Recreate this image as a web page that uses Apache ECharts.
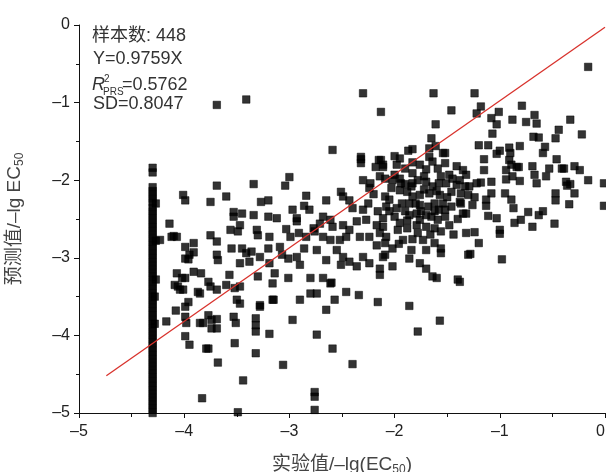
<!DOCTYPE html>
<html>
<head>
<meta charset="utf-8">
<script src="https://cdn.jsdelivr.net/npm/echarts@6/dist/echarts.min.js"></script>
<style>
html,body{margin:0;padding:0;background:#fff;}
#chart{width:606px;height:472px;}
</style>
</head>
<body>
<div id="chart"></div>
<script>
// ---- data ----
const xTicks = [-5, -4, -3, -2, -1, 0];
const yTicks = [-5, -4, -3, -2, -1, 0];

// scattered points: [experimental -lg(EC50), predicted -lg EC50]
const points = [
[-1.63,-0.88],[-1.24,-0.88],[-2.13,-1.12],[-1.46,-1.10],[-1.18,-1.05],[-1.22,-1.14],[-0.79,-1.04],[-1.01,-1.12],[-1.08,-1.20],[-1.03,-1.28],
[-0.88,-1.22],[-0.75,-1.25],[-0.67,-1.16],[-0.65,-1.27],[-0.33,-1.22],[-1.61,-1.28],[-1.07,-1.40],[-0.44,-1.35],[-0.22,-1.41],[-0.68,-1.44],
[-0.63,-1.45],[-0.47,-1.46],[-1.65,-1.46],[-1.20,-1.55],[-1.11,-1.55],[-0.81,-1.56],[-0.91,-1.58],[-1.00,-1.62],[-0.57,-1.57],[-0.59,-1.65],
[-1.83,-1.60],[-1.87,-1.62],[-1.67,-1.59],[-1.54,-1.65],[-1.03,-1.66],[-1.15,-1.73],[-0.91,-1.74],[-0.46,-1.73],[-2.00,-1.69],[-2.13,-1.74],
[-1.67,-1.70],[-1.83,-1.77],[-0.89,-1.80],[-0.84,-1.83],[-0.69,-1.82],[-0.53,-1.85],[-0.41,-1.85],[-0.29,-1.82],[-0.24,-1.87],[-1.15,-1.87],
[-0.94,-1.87],[-0.67,-1.93],[-0.56,-1.95],[-0.16,-2.00],[-0.01,-2.04],[-0.88,-1.95],[-0.94,-1.99],[-0.81,-2.01],[-1.18,-2.03],[-1.08,-2.02],
[-0.37,-2.02],[-0.33,-2.05],[-0.47,-2.17],[-0.47,-2.26],[-0.29,-2.17],[-0.34,-2.31],[-0.01,-2.33],[-1.08,-2.17],[-1.13,-2.25],[-1.13,-2.33],
[-0.95,-2.17],[-0.89,-2.25],[-0.87,-2.36],[-1.24,-2.22],[-1.22,-2.04],[-1.33,-2.08],[-1.29,-2.08],[-1.32,-2.43],[-1.11,-2.46],[-1.03,-2.49],
[-0.86,-2.55],[-0.80,-2.51],[-0.73,-2.41],[-0.63,-2.45],[-0.59,-2.40],[-0.69,-2.60],[-0.48,-2.56],[-1.00,-2.64],[-1.00,-2.69],[-1.32,-2.68],
[-1.24,-2.67],[-1.20,-2.81],[-1.28,-2.95],[-0.98,-3.02],
[-1.64,-1.76],[-1.59,-1.85],[-1.76,-1.80],[-1.70,-1.86],[-1.41,-1.82],[-1.35,-1.87],[-1.32,-1.93],[-1.48,-1.93],[-1.56,-1.95],[-1.83,-1.91],
[-1.78,-2.00],[-1.95,-1.98],[-2.02,-2.00],[-2.09,-1.98],[-2.03,-2.10],[-1.95,-2.13],[-1.84,-2.08],[-1.70,-2.02],[-1.64,-2.08],[-1.51,-2.04],
[-1.41,-2.06],[-1.46,-2.15],[-1.37,-2.17],[-1.57,-2.19],[-1.67,-2.17],[-1.76,-2.19],[-1.83,-2.21],[-1.86,-2.30],[-1.76,-2.32],[-1.68,-2.34],
[-1.62,-2.30],[-1.54,-2.30],[-1.46,-2.34],[-2.09,-2.21],[-2.08,-2.34],[-1.98,-2.36],[-2.00,-2.47],[-1.86,-2.45],[-1.76,-2.51],[-1.65,-2.47],
[-1.59,-2.51],[-1.52,-2.47],[-1.35,-2.43],[-1.70,-2.60],[-1.62,-2.62],[-1.56,-2.66],[-1.79,-2.58],[-2.11,-2.60],[-1.97,-2.64],[-2.08,-2.73],
[-1.92,-2.77],[-1.83,-2.76],[-1.73,-2.77],[-1.62,-2.81],[-1.56,-2.88],[-1.56,-2.94],[-1.84,-2.90],[-2.02,-2.88],[-2.09,-2.96],[-1.76,-3.07],
[-1.70,-3.14],[-2.02,-3.11],[-1.64,-3.24],[-1.40,-3.28],
[-1.90,-2.05],[-1.88,-2.15],[-1.72,-2.12],[-1.60,-2.14],[-1.50,-2.22],[-1.62,-2.40],[-1.70,-2.45],[-1.90,-2.40],[-1.95,-2.55],[-1.88,-2.62],
[-1.66,-2.70],[-1.78,-2.68],[-1.96,-2.82],[-1.70,-2.90],[-1.48,-2.58],[-1.44,-2.70],[-2.05,-2.40],[-2.16,-2.40],[-2.20,-2.18],[-2.05,-2.25],
[-1.90,-1.85],[-1.98,-1.80],[-1.72,-1.95],[-1.52,-1.78],[-1.45,-1.98],[-1.58,-2.04],[-1.80,-2.30],[-1.93,-2.30],[-1.58,-2.38],[-1.75,-2.40],
[-2.14,-2.68],[-1.88,-2.52],[-1.52,-2.38],[-1.40,-2.50],[-1.26,-2.32],
[-2.59,-1.61],[-2.32,-1.73],[-2.32,-1.78],[-2.15,-1.74],[-2.18,-1.83],[-2.11,-1.80],[-3.00,-1.96],[-3.04,-2.07],[-3.34,-2.05],[-3.69,-2.07],
[-4.01,-2.19],[-3.99,-2.26],[-3.75,-2.28],[-3.60,-2.21],[-3.27,-2.28],[-3.20,-2.26],[-2.84,-2.20],[-2.86,-2.33],[-2.81,-2.38],[-2.97,-2.38],
[-2.65,-2.26],[-2.51,-2.15],[-2.49,-2.21],[-2.43,-2.26],[-2.30,-2.00],[-2.23,-2.04],[-2.24,-2.10],[-2.25,-2.30],[-2.30,-2.38],[-2.40,-2.36],
[-3.53,-2.41],[-3.53,-2.47],[-3.45,-2.43],[-3.34,-2.45],[-3.20,-2.47],[-3.12,-2.49],[-2.93,-2.49],[-2.93,-2.53],[-2.68,-2.47],[-2.61,-2.51],
[-2.71,-2.56],[-2.77,-2.62],[-2.59,-2.60],[-2.49,-2.58],[-2.43,-2.64],[-2.36,-2.53],[-2.27,-2.51],[-2.17,-2.58],[-2.11,-2.49],[-4.14,-2.56],
[-3.47,-2.58],[-3.56,-2.64],[-3.49,-2.66],[-3.31,-2.64],[-3.30,-2.71],[-3.19,-2.73],[-3.03,-2.63],[-2.99,-2.73],[-2.91,-2.68],[-2.84,-2.73],
[-2.76,-2.66],[-2.68,-2.73],[-2.61,-2.77],[-2.52,-2.77],[-2.46,-2.73],[-2.33,-2.73],[-2.24,-2.73],[-2.17,-2.84],[-2.09,-2.81],[-4.12,-2.73],
[-4.07,-2.73],[-3.99,-2.86],[-3.91,-2.81],[-3.75,-2.71],[-3.69,-2.79],[-4.23,-2.77],[-3.95,-2.96],[-3.99,-3.01],[-3.69,-2.96],[-3.68,-3.03],
[-3.55,-2.88],[-3.45,-2.88],[-3.41,-2.94],[-3.36,-2.92],[-3.28,-2.99],[-3.20,-2.88],[-3.19,-3.07],[-3.47,-3.07],[-3.38,-3.05],[-3.09,-2.86],
[-3.07,-2.96],[-3.01,-3.01],[-2.93,-2.99],[-2.90,-3.09],[-2.86,-2.88],[-2.74,-2.90],[-2.65,-3.03],[-2.55,-2.90],[-2.49,-2.99],[-2.43,-3.05],
[-2.36,-3.11],[-2.30,-2.99],[-2.24,-3.07],[-2.14,-3.14],[-2.11,-2.99],[-4.07,-3.20],[-4.02,-3.26],[-4.06,-3.37],[-4.01,-3.41],[-3.91,-3.18],
[-3.84,-3.20],[-3.77,-3.31],[-3.75,-3.37],[-3.85,-3.46],[-3.69,-3.41],[-3.57,-3.22],[-3.60,-3.35],[-3.52,-3.39],[-3.47,-3.37],[-3.50,-3.54],
[-3.47,-3.59],[-3.28,-3.61],[-3.30,-3.24],[-3.16,-3.33],[-3.14,-3.20],[-3.01,-3.26],[-2.80,-3.26],[-2.74,-3.46],[-2.80,-3.46],[-2.68,-3.26],
[-2.61,-3.33],[-2.57,-3.54],[-2.46,-3.44],[-2.34,-3.48],[-2.16,-3.57],[-2.90,-3.54],[-3.16,-3.54],
[-3.77,-3.74],[-3.74,-3.80],[-3.69,-3.79],[-3.82,-3.84],[-3.74,-3.91],[-3.69,-3.91],[-3.53,-3.76],[-3.51,-3.84],[-3.32,-3.78],[-3.32,-3.87],
[-3.32,-3.95],[-3.19,-3.98],[-3.28,-3.63],[-3.15,-3.54],[-2.97,-3.80],[-2.65,-3.67],[-2.74,-3.99],[-2.59,-4.17],[-3.77,-4.17],[-3.52,-4.10],
[-3.32,-4.23],[-3.68,-4.35],[-3.06,-4.38],[-3.44,-4.58],[-3.83,-4.81],[-2.76,-4.73],[-2.76,-4.79],[-2.76,-4.96],[-3.49,-4.99],
[-4.10,-2.72],[-3.91,-2.93],[-3.96,-3.02],[-3.99,-3.26],[-4.09,-3.35],[-4.04,-3.41],[-3.87,-3.44],[-3.99,-3.63],[-3.96,-3.57],[-4.08,-3.68],
[-4.17,-3.82],[-3.99,-3.76],[-3.98,-3.84],[-3.85,-3.84],[-3.99,-4.01],[-3.95,-4.12],[-3.79,-4.17],
[-3.69,-1.03],[-3.41,-0.96],
[-2.30,-0.88],[-1.61,-1.56],[-1.52,-1.65],[-2.32,-1.70],[-1.95,-1.72],[-2.11,-1.83],[-2.14,-1.95],[-2.00,-1.93],[-1.94,-2.04],[-1.83,-2.04],
[-1.38,-2.00],[-1.38,-2.28],[-1.30,-2.19],[-1.79,-2.43],
[-0.16,-0.54],[-0.90,-1.65],[-0.82,-1.83],[-0.39,-1.85],[-0.65,-2.04],[-0.36,-2.07],[-1.37,-2.30],
[-2.60,-3.32],[-1.86,-3.62],[-1.57,-3.81],[-1.78,-3.95],[-2.40,-4.37],[-1.38,-3.31],[-1.60,-3.26],[-2.14,-3.22],[-2.51,-3.09],[-1.86,-3.01],
[-1.30,-2.96],
[-4.27,-2.30],[-4.27,-2.78],[-4.27,-3.28],[-4.28,-3.50],[-4.28,-3.85]
];

// the dense vertical stack of points at experimental value -4.30
const stackX = -4.30;
const stackY = [-1.84,-1.90,-2.09,-2.14,-2.19,-2.24,-2.29,-2.35,-2.40,-2.45,-2.50,-2.55,-2.60,-2.65,-2.70,-2.75,-2.80,-2.85,-2.90,
  -2.95,-3.00,-3.05,-3.10,-3.15,-3.20,-3.25,-3.30,-3.35,-3.40,-3.45,-3.50,-3.55,-3.60,-3.65,-3.70,-3.75,-3.80,-3.85,-3.90,
  -3.95,-4.00,-4.05,-4.10,-4.15,-4.20,-4.25,-4.30,-4.35,-4.40,-4.45,-4.50,-4.55,-4.60,-4.65,-4.70,-4.75,-4.80,-4.85,-4.90,
  -4.95,-5.00];

// fitted line end points
const fitLine = [[-4.74,-4.52],[0.0,-0.03]];

// annotation text
const statLines = ['样本数: 448', 'Y=0.9759X', '=0.5762', 'SD=0.8047'];

// ---- chart ----
const scatterData = points.concat(stackY.map(y => [stackX, y]));
const FONT = '"Liberation Sans", Arial, "Noto Sans CJK SC", sans-serif';
const fmt = v => v === 0 ? '0' : '\u2013' + Math.abs(v);

const chart = echarts.init(document.getElementById('chart'), null, {renderer: 'canvas'});
chart.setOption({
  animation: false,
  backgroundColor: '#fff',
  grid: {left: 79, right: 1, top: 25, bottom: 59, containLabel: false, outerBoundsMode: 'none'},
  xAxis: {
    type: 'value', min: xTicks[0], max: xTicks[xTicks.length - 1], interval: 1,
    name: '{a|实验值/\u2013lg(EC}{s|50}{a|)}',
    nameLocation: 'middle', nameGap: 41,
    nameTextStyle: {
      fontFamily: FONT, color: '#444',
      rich: {
        a: {fontSize: 19, fontFamily: FONT, color: '#444'},
        s: {fontSize: 12, fontFamily: FONT, color: '#444', padding: [10, 0, 0, 0]}
      }
    },
    axisLine: {show: true, onZero: false, lineStyle: {color: '#111', width: 1}},
    axisTick: {show: true, inside: false, length: 5, lineStyle: {color: '#111'}},
    minorTick: {show: true, splitNumber: 2, length: 4, lineStyle: {color: '#111'}},
    splitLine: {show: false}, minorSplitLine: {show: false},
    axisLabel: {formatter: fmt, fontSize: 16, fontFamily: FONT, color: '#222', margin: 11, alignMaxLabel: 'right'}
  },
  yAxis: {
    type: 'value', min: yTicks[0], max: yTicks[yTicks.length - 1], interval: 1,
    name: '{a|预测值/\u2013lg EC}{s|50}',
    nameLocation: 'middle', nameGap: 53,
    nameTextStyle: {
      fontFamily: FONT, color: '#444',
      rich: {
        a: {fontSize: 19, fontFamily: FONT, color: '#444'},
        s: {fontSize: 12, fontFamily: FONT, color: '#444', padding: [10, 0, 0, 0]}
      }
    },
    axisLine: {show: true, onZero: false, lineStyle: {color: '#111', width: 1}},
    axisTick: {show: true, inside: false, length: 5, lineStyle: {color: '#111'}},
    minorTick: {show: true, splitNumber: 2, length: 3, lineStyle: {color: '#111'}},
    splitLine: {show: false}, minorSplitLine: {show: false},
    axisLabel: {formatter: fmt, fontSize: 16, fontFamily: FONT, color: '#222', margin: 9}
  },
  series: [
    {
      type: 'scatter', data: scatterData, symbol: 'rect', symbolSize: 7.5,
      itemStyle: {color: '#000', borderColor: '#000', borderWidth: 0.6}, clip: false, z: 2, silent: true
    },
    {
      type: 'line', data: fitLine, symbol: 'none', z: 3, silent: true,
      lineStyle: {color: '#d8322c', width: 1.3}
    }
  ],
  graphic: [
    {type: 'text', x: 92, y: 36.5, style: {text: statLines[0], font: '18px ' + FONT, fill: '#333', verticalAlign: 'middle'}},
    {type: 'text', x: 93, y: 59.5, style: {text: statLines[1], font: '18px ' + FONT, fill: '#333', verticalAlign: 'middle'}},
    {type: 'text', x: 92, y: 85, style: {text: 'R', font: 'italic 18px ' + FONT, fill: '#333', verticalAlign: 'middle'}},
    {type: 'text', x: 104, y: 79, style: {text: '2', font: '10px ' + FONT, fill: '#333', verticalAlign: 'middle'}},
    {type: 'text', x: 103, y: 92, style: {text: 'PRS', font: '10px ' + FONT, fill: '#333', verticalAlign: 'middle'}},
    {type: 'text', x: 122, y: 85, style: {text: statLines[2], font: '18px ' + FONT, fill: '#333', verticalAlign: 'middle'}},
    {type: 'text', x: 93, y: 104, style: {text: statLines[3], font: '18px ' + FONT, fill: '#333', verticalAlign: 'middle'}}
  ]
});
</script>
</body>
</html>
